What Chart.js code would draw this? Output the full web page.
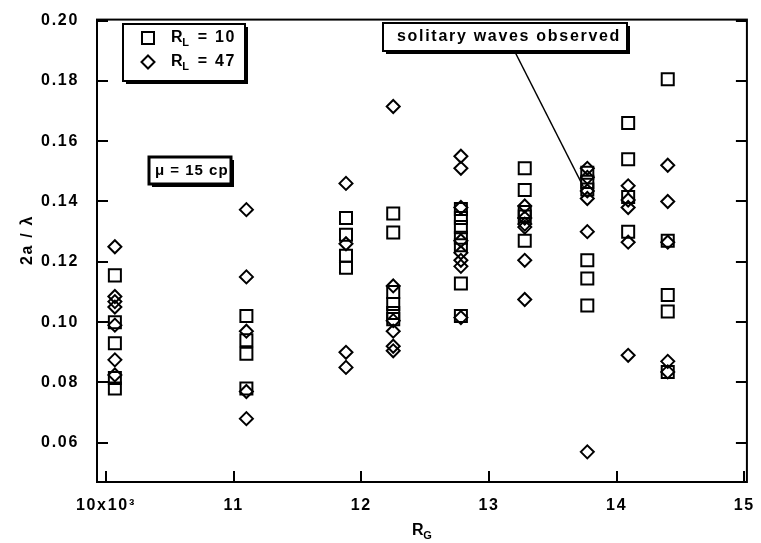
<!DOCTYPE html>
<html>
<head>
<meta charset="utf-8">
<script src="https://cdn.jsdelivr.net/npm/chart.js@4/dist/chart.umd.min.js"></script>
<style>
  html, body { margin: 0; padding: 0; background: #fff; }
  #wrap { width: 761px; height: 543px; }
</style>
</head>
<body>
<div id="wrap"><canvas id="c" width="761" height="543"></canvas></div>
<script>
// Gas Reynolds numbers (x 10^3) at which runs were made
const rgPositions = [10.07, 11.1, 11.88, 12.25, 12.78, 13.28, 13.77, 14.09, 14.4];

// Wave steepness 2a/λ, one list per R_G position
const rl10Values = [
  [0.1155, 0.100, 0.093, 0.0815, 0.078],
  [0.102, 0.094, 0.0895, 0.078],
  [0.1345, 0.129, 0.122, 0.118],
  [0.136, 0.1297, 0.110, 0.106, 0.103, 0.101],
  [0.1375, 0.1345, 0.1315, 0.128, 0.1255, 0.1128, 0.102],
  [0.151, 0.1438, 0.1365, 0.135, 0.127],
  [0.1495, 0.1465, 0.144, 0.1205, 0.1145, 0.1055],
  [0.166, 0.154, 0.1415, 0.130],
  [0.1805, 0.127, 0.109, 0.1035, 0.0835]
];
const rl47Values = [
  [0.125, 0.1085, 0.1068, 0.105, 0.099, 0.0875, 0.0825],
  [0.1373, 0.115, 0.097, 0.077, 0.068],
  [0.146, 0.126, 0.090, 0.085],
  [0.1715, 0.112, 0.1005, 0.097, 0.092, 0.0905],
  [0.155, 0.151, 0.138, 0.127, 0.123, 0.1205, 0.1185, 0.1015],
  [0.1385, 0.1345, 0.1325, 0.1315, 0.1205, 0.1075],
  [0.151, 0.148, 0.1435, 0.141, 0.130, 0.057],
  [0.1452, 0.1405, 0.138, 0.1265, 0.089],
  [0.152, 0.140, 0.1265, 0.087, 0.0835]
];

const yTickValues = [0.06, 0.08, 0.10, 0.12, 0.14, 0.16, 0.18, 0.20];
const xTickValues = [10, 11, 12, 13, 14, 15];
const seriesLabels = ['R_L = 10', 'R_L = 47'];

// Point where the "solitary waves observed" pointer ends
const pointerTarget = { x: 13.74, y: 0.1448 };

function toPoints(values) {
  const pts = [];
  values.forEach((col, i) => col.forEach(v => pts.push({ x: rgPositions[i], y: v })));
  return pts;
}

const FAMILY = '"Liberation Sans", Arial, sans-serif';
const FONT = 'bold 16px ' + FAMILY;
const FONT_SMALL = 'bold 15px ' + FAMILY;
const FONT_SUB = 'bold 11px ' + FAMILY;

function setSpacing(ctx, px) { try { ctx.letterSpacing = (px === undefined ? 1.7 : px) + 'px'; } catch (e) {} }

function boxWithShadow(ctx, x, y, w, h, lw) {
  ctx.save();
  ctx.fillStyle = '#000';
  ctx.fillRect(x + 3, y + 3, w, h);
  ctx.fillStyle = '#fff';
  ctx.fillRect(x, y, w, h);
  ctx.strokeStyle = '#000';
  ctx.lineWidth = lw;
  ctx.strokeRect(x, y, w, h);
  ctx.restore();
}

function drawSquare(ctx, x, y) {
  ctx.strokeRect(x - 6, y - 6, 12, 12);
}
function drawDiamond(ctx, x, y) {
  ctx.beginPath();
  ctx.moveTo(x, y - 6.5); ctx.lineTo(x + 6.5, y); ctx.lineTo(x, y + 6.5); ctx.lineTo(x - 6.5, y);
  ctx.closePath(); ctx.stroke();
}

// Text with a subscript: main, sub, rest
function subText(ctx, x, y, main, sub, rest) {
  ctx.font = FONT;
  ctx.fillText(main, x, y);
  let w = ctx.measureText(main).width;
  ctx.font = FONT_SUB;
  ctx.fillText(sub, x + w - 2, y + 5);
  w += ctx.measureText(sub).width - 1;
  ctx.font = FONT;
  ctx.fillText(rest, x + w, y);
}

const decorations = {
  id: 'decorations',
  beforeUpdate(chart) { setSpacing(chart.ctx); },
  beforeDraw(chart) { setSpacing(chart.ctx); },
  afterDraw(chart) {
    const ctx = chart.ctx;
    const a = chart.chartArea;
    const xs = chart.scales.x, ys = chart.scales.y;
    ctx.save();
    setSpacing(ctx);
    ctx.strokeStyle = '#000';
    ctx.fillStyle = '#000';

    // frame
    ctx.lineWidth = 2;
    ctx.strokeRect(a.left, a.top, a.right - a.left, a.bottom - a.top);

    // inward tick marks
    ctx.beginPath();
    yTickValues.forEach(v => {
      const py = Math.round(ys.getPixelForValue(v));
      ctx.moveTo(a.left, py); ctx.lineTo(a.left + 11, py);
      ctx.moveTo(a.right, py); ctx.lineTo(a.right - 11, py);
    });
    xTickValues.forEach(v => {
      const px = Math.round(xs.getPixelForValue(v));
      ctx.moveTo(px, a.bottom); ctx.lineTo(px, a.bottom - 11);
    });
    ctx.stroke();

    // legend box
    boxWithShadow(ctx, 123, 24, 122, 57, 2);
    ctx.lineWidth = 2;
    drawSquare(ctx, 148, 38);
    drawDiamond(ctx, 148, 62);
    ctx.textBaseline = 'middle';
    ctx.textAlign = 'left';
    subText(ctx, 171, 38, 'R', 'L', ' = 10');
    subText(ctx, 171, 62, 'R', 'L', ' = 47');

    // viscosity box
    boxWithShadow(ctx, 149, 157, 82, 27, 3);
    setSpacing(ctx, 1);
    ctx.font = FONT_SMALL;
    ctx.fillText('\u03bc = 15 cp', 155, 171);
    setSpacing(ctx);

    // annotation box and pointer
    boxWithShadow(ctx, 383, 23, 244, 28, 2);
    ctx.font = FONT;
    ctx.fillText('solitary waves observed', 397, 37);
    ctx.lineWidth = 1.5;
    ctx.beginPath();
    ctx.moveTo(515, 52);
    ctx.lineTo(xs.getPixelForValue(pointerTarget.x), ys.getPixelForValue(pointerTarget.y));
    ctx.stroke();

    // axis titles
    ctx.textAlign = 'left';
    subText(ctx, 412, 531, 'R', 'G', '');
    ctx.save();
    ctx.translate(28, 240);
    ctx.rotate(-Math.PI / 2);
    ctx.textAlign = 'center';
    ctx.font = FONT;
    ctx.fillText('2a / \u03bb', 0, 0);
    ctx.restore();

    ctx.restore();
  }
};

const tickFont = { family: FAMILY, size: 16, weight: 'bold' };

new Chart(document.getElementById('c'), {
  type: 'scatter',
  data: {
    datasets: [
      {
        label: seriesLabels[0],
        data: toPoints(rl10Values),
        pointStyle: 'rect',
        pointRadius: 8.5,
        pointHoverRadius: 8.5,
        pointBorderWidth: 2,
        borderColor: '#000',
        backgroundColor: 'rgba(0,0,0,0)'
      },
      {
        label: seriesLabels[1],
        data: toPoints(rl47Values),
        pointStyle: 'rectRot',
        pointRadius: 6.5,
        pointHoverRadius: 6.5,
        pointBorderWidth: 2,
        borderColor: '#000',
        backgroundColor: 'rgba(0,0,0,0)'
      }
    ]
  },
  options: {
    responsive: false,
    animation: false,
    devicePixelRatio: 1,
    layout: { padding: { top: 17, right: 12, left: 0, bottom: 0 } },
    plugins: { legend: { display: false }, tooltip: { enabled: false } },
    scales: {
      x: {
        type: 'linear',
        min: 9.93,
        max: 15.02,
        grid: { display: false },
        border: { display: false },
        afterFit(s) { s.height = 61; },
        afterBuildTicks(s) { s.ticks = xTickValues.map(v => ({ value: v })); },
        ticks: {
          color: '#000',
          font: tickFont,
          padding: 6,
          maxRotation: 0,
          autoSkip: false,
          callback: v => (v === 10 ? '10x10\u00b3' : String(v))
        }
      },
      y: {
        type: 'linear',
        min: 0.047,
        max: 0.2003,
        grid: { display: false },
        border: { display: false },
        afterFit(s) { s.width = 97; },
        afterBuildTicks(s) { s.ticks = yTickValues.map(v => ({ value: v })); },
        ticks: {
          color: '#000',
          font: tickFont,
          padding: 10,
          autoSkip: false,
          callback: v => v.toFixed(2)
        }
      }
    }
  },
  plugins: [decorations]
});
</script>
</body>
</html>
